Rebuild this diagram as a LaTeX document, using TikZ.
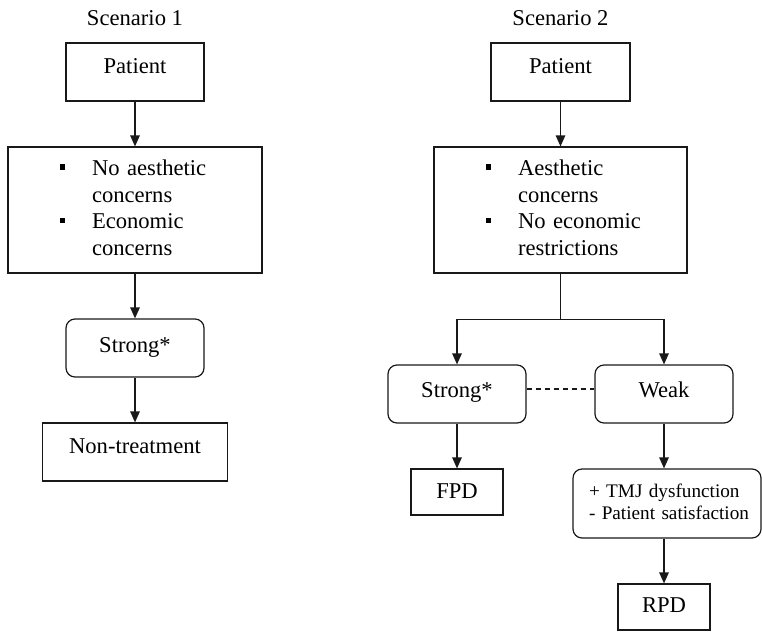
\documentclass[tikz,border=0pt]{standalone}
\usepackage{fontspec}
\setmainfont{Liberation Serif}
\usetikzlibrary{arrows.meta,calc,positioning}
\newcommand{\XLeft}{135}
\newcommand{\XRight}{560.5}
\newcommand{\XStrong}{457}
\newcommand{\XWeak}{664}
\newcommand{\BoxFont}{\fontsize{22.6}{26.6}\selectfont}
\newcommand{\NoteFont}{\fontsize{19.2}{21.7}\selectfont}
\newcommand{\SqBullet}{\leavevmode\llap{\rule[5.7pt]{5.6pt}{5.6pt}\hspace{26.7pt}}}

\begin{document}
\begin{tikzpicture}[
  x=1pt,y=-1pt,
  >={Triangle[length=11pt,width=9.5pt]},
  title/.style={font=\BoxFont},
  box/.style={draw=black!90,line width=1.2pt,inner sep=0pt,font=\BoxFont},
  roundbox/.style={box,rounded corners=9pt},
  flow/.style={->,draw=black!90,line width=1.2pt},
  link/.style={draw=black!90,line width=1.2pt,dash pattern=on 5pt off 4pt}
]
\useasboundingbox (0,0) rectangle (762,632);

% Scenario 1
\node[title,anchor=base] (title1) at (\XLeft,25) {Scenario 1};
\node[box,minimum width=138,text height=30pt,text depth=28pt] (pat1) at (\XLeft,72) {Patient};
\node[box,text width=254pt,align=left,text height=28.7pt,text depth=97.3pt] (cond1) at (\XLeft,210)
  {\leftskip=84pt\SqBullet No aesthetic\\concerns\\\SqBullet Economic\\concerns\par};
\node[roundbox,minimum width=138,text height=33pt,text depth=25pt] (strong1) at (\XLeft,348) {Strong*};
\node[box,minimum width=185,text height=30pt,text depth=28pt] (nontreat) at (\XLeft,452) {Non-treatment};

\draw[flow] (pat1) -- (cond1);
\draw[flow] (cond1) -- (strong1);
\draw[flow] (strong1) -- (nontreat);

% Scenario 2
\node[title,anchor=base] (title2) at (\XRight,25) {Scenario 2};
\node[box,minimum width=139,text height=30pt,text depth=28pt] (pat2) at (\XRight,72) {Patient};
\node[box,text width=253pt,align=left,text height=28.7pt,text depth=97.3pt] (cond2) at (\XRight,210)
  {\leftskip=84pt\SqBullet Aesthetic\\concerns\\\SqBullet No economic\\restrictions\par};
\node[roundbox,minimum width=138,text height=32.5pt,text depth=25.5pt] (strong2) at (\XStrong,394) {Strong*};
\node[roundbox,minimum width=138,text height=32.5pt,text depth=25.5pt] (weak2) at (\XWeak,394) {Weak};
\node[box,minimum width=92,text height=29.3pt,text depth=16.7pt] (fpd) at (\XStrong,492) {FPD};
\node[roundbox,font=\NoteFont,text width=188pt,align=left,text height=28.3pt,text depth=40.7pt] (tmj) at (667,503.5)
  {\leftskip=16pt + TMJ dysfunction\\- Patient satisfaction\par};
\node[box,minimum width=92,text height=28.7pt,text depth=17.3pt] (rpd) at (\XWeak,607) {RPD};

\coordinate (split) at ($(cond2.south)+(0,46)$);
\draw[flow] (pat2) -- (cond2);
\draw[draw=black!90,line width=1.2pt] (cond2.south) -- (split);
\draw[flow] (split) -| (strong2.north);
\draw[flow] (split) -| (weak2.north);
\draw[link] ([yshift=5pt]strong2.east) -- ([yshift=5pt]weak2.west);
\draw[flow] (strong2) -- (fpd);
\draw[flow] (weak2.south) -- (weak2.south |- tmj.north);
\draw[flow] (rpd |- tmj.south) -- (rpd.north);

\end{tikzpicture}
\end{document}
